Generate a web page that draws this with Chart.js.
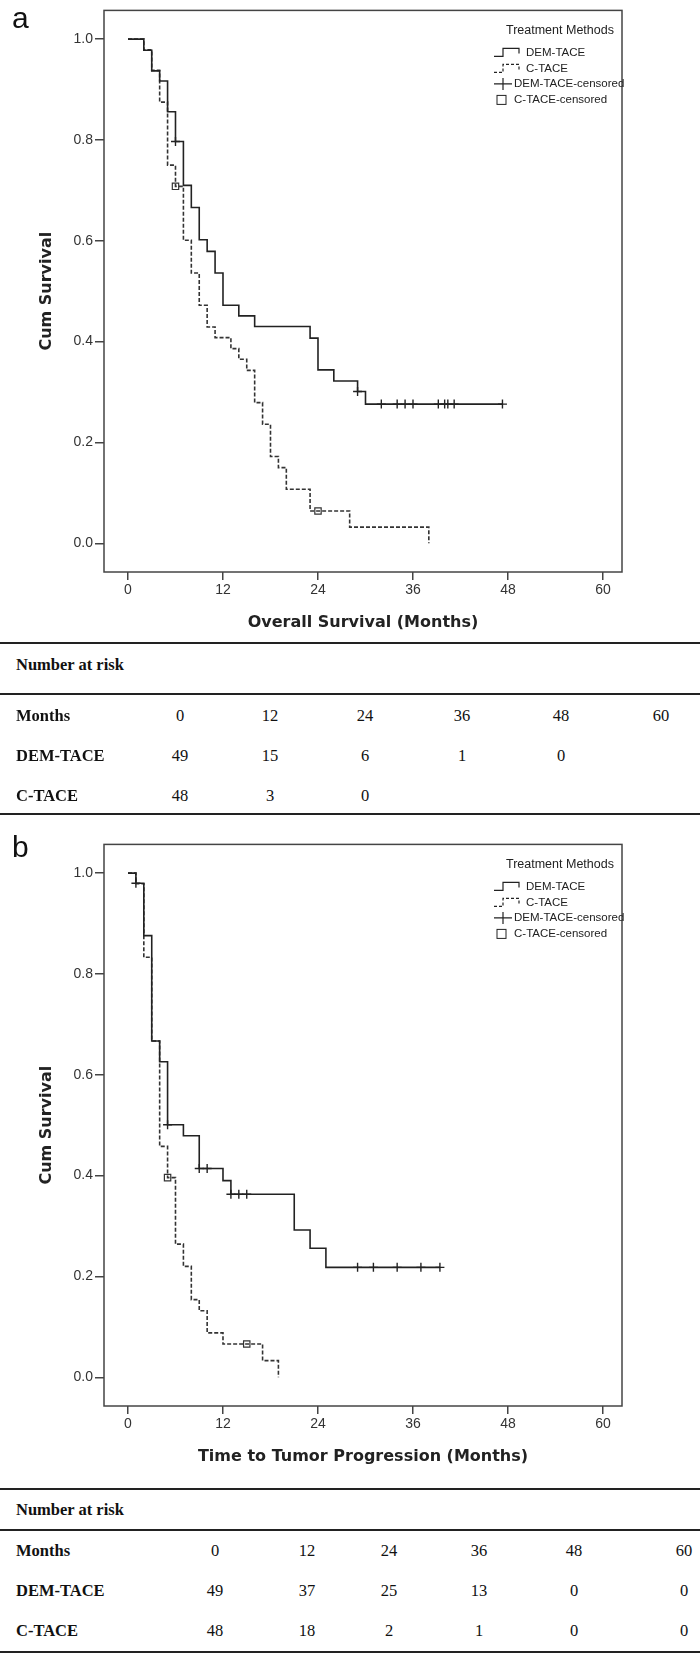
<!DOCTYPE html>
<html lang="en">
<head>
<meta charset="UTF-8">
<title>Kaplan-Meier curves: DEM-TACE vs C-TACE</title>
<script src="https://cdn.jsdelivr.net/npm/chart.js"></script>
<style>
  body { margin: 0; width: 700px; height: 1656px; position: relative; background: #fff; overflow: hidden; }
  canvas { position: absolute; left: 0; }
  #chartA { top: 0; }
  #chartB { top: 834px; }
  .panel { position: absolute; font-family: "Liberation Sans", Arial, sans-serif; font-size: 30px; line-height: 30px; color: #111; }
  .rule { position: absolute; left: 0; width: 700px; height: 2px; background: #222; }
  .cell { position: absolute; font-family: "Liberation Serif", "Times New Roman", serif; font-size: 16.5px; line-height: 20px; color: #111; transform: translate(-50%, -50%); white-space: nowrap; }
  .cell.lab { font-weight: bold; transform: translate(0, -50%); }
</style>
</head>
<body>
<canvas id="chartA" width="700" height="640"></canvas>
<canvas id="chartB" width="700" height="640"></canvas>
<div class="panel" style="left:12px;top:3px">a</div>
<div class="panel" style="left:12px;top:832px">b</div>
<script>
// axis ticks
const xTicks = [0, 12, 24, 36, 48, 60];
const yTicks = [0, 0.2, 0.4, 0.6, 0.8, 1.0];

// (a) overall survival
const osDemTime = [0, 2, 3, 4, 5, 6, 7, 8, 9, 10, 11, 12, 14, 16, 23, 24, 26, 29, 30, 47.3];
const osDemSurv = [1, 0.978, 0.937, 0.917, 0.856, 0.797, 0.710, 0.666, 0.602, 0.579, 0.536, 0.472, 0.451, 0.430, 0.407, 0.344, 0.322, 0.301, 0.276, 0.276];
const osDemCens = [6, 29, 32, 34, 35, 36, 39.2, 40, 40.4, 41.2, 47.3];
const osCtaTime = [0, 2, 3, 4, 5, 6, 7, 8, 9, 10, 11, 13, 14, 15, 16, 17, 18, 19, 20, 23, 28, 38];
const osCtaSurv = [1, 0.979, 0.938, 0.875, 0.750, 0.708, 0.601, 0.536, 0.472, 0.429, 0.408, 0.386, 0.365, 0.343, 0.279, 0.236, 0.172, 0.150, 0.107, 0.064, 0.032, 0];
const osCtaCens = [6, 24];

// (b) time to tumor progression
const ttpDemTime = [0, 1, 2, 3, 4, 5, 7, 9, 12, 13, 21, 23, 25, 39.4];
const ttpDemSurv = [1, 0.980, 0.876, 0.667, 0.626, 0.501, 0.479, 0.414, 0.390, 0.363, 0.292, 0.256, 0.218, 0.218];
const ttpDemCens = [1, 5, 9, 10, 13, 14, 15, 29, 31, 34, 37, 39.4];
const ttpCtaTime = [0, 1, 2, 3, 4, 5, 6, 7, 8, 9, 10, 12, 17, 19];
const ttpCtaSurv = [1, 0.979, 0.833, 0.667, 0.458, 0.396, 0.264, 0.220, 0.154, 0.132, 0.088, 0.066, 0.033, 0];
const ttpCtaCens = [5, 15];

// number at risk tables
const riskMonths = [0, 12, 24, 36, 48, 60];
const osRiskDem = [49, 15, 6, 1, 0, null];
const osRiskCta = [48, 3, 0, null, null, null];
const ttpRiskDem = [49, 37, 25, 13, 0, 0];
const ttpRiskCta = [48, 18, 2, 1, 0, 0];

const legendTitle = 'Treatment Methods';
const legendLabels = ['DEM-TACE', 'C-TACE', 'DEM-TACE-censored', 'C-TACE-censored'];

// survival level at time t (step function)
function kmAt(t, times, surv) {
  let s = surv[0];
  for (let i = 0; i < times.length; i++) if (times[i] <= t) s = surv[i];
  return s;
}
const pts = (times, surv) => times.map((t, i) => ({ x: t, y: surv[i] }));

const SANS = '"Liberation Sans", Arial, sans-serif';

const kmFrame = {
  id: 'kmFrame',
  afterDraw(chart) {
    const { ctx, chartArea: a } = chart;
    ctx.save();
    ctx.strokeStyle = '#444';
    ctx.lineWidth = 1.5;
    ctx.strokeRect(a.left, a.top, a.right - a.left, a.bottom - a.top);

    // legend in the top right corner
    const sx = a.right - 128;
    ctx.fillStyle = '#222';
    ctx.textBaseline = 'middle';
    ctx.font = '12.5px ' + SANS;
    ctx.fillText(legendTitle, a.right - 116, a.top + 20);
    ctx.font = '11.5px ' + SANS;
    const ys = [42, 58, 73.5, 89.5].map(d => a.top + d);

    ctx.strokeStyle = '#222';
    ctx.lineWidth = 1.2;
    [[], [3, 2]].forEach((dash, i) => {
      const y = ys[i];
      ctx.setLineDash(dash);
      ctx.beginPath();
      ctx.moveTo(sx, y + 4);
      ctx.lineTo(sx + 9, y + 4);
      ctx.lineTo(sx + 9, y - 4);
      ctx.lineTo(sx + 25, y - 4);
      ctx.lineTo(sx + 25, y + 1);
      ctx.stroke();
      ctx.setLineDash([]);
      ctx.fillText(legendLabels[i], a.right - 96, y);
    });
    ctx.beginPath();
    ctx.moveTo(sx, ys[2]); ctx.lineTo(sx + 18, ys[2]);
    ctx.moveTo(sx + 9, ys[2] - 6); ctx.lineTo(sx + 9, ys[2] + 6);
    ctx.stroke();
    ctx.fillText(legendLabels[2], a.right - 108, ys[2]);
    ctx.lineWidth = 1;
    ctx.strokeRect(sx + 3, ys[3] - 4.5, 9, 9);
    ctx.fillText(legendLabels[3], a.right - 108, ys[3]);
    ctx.restore();
  }
};

function kmChart(id, xTitle, dem, cta) {
  const datasets = [
    { data: pts(dem.time, dem.surv), showLine: true, stepped: 'before', borderColor: '#222', borderWidth: 1.6, pointRadius: 0 },
    { data: pts(cta.time, cta.surv), showLine: true, stepped: 'before', borderColor: '#333', borderWidth: 1.6, borderDash: [4, 2], pointRadius: 0 },
    { data: dem.cens.map(t => ({ x: t, y: kmAt(t, dem.time, dem.surv) })), showLine: false,
      pointStyle: 'cross', pointRadius: 4.5, borderColor: '#222', borderWidth: 1.4 },
    { data: cta.cens.map(t => ({ x: t, y: kmAt(t, cta.time, cta.surv) })), showLine: false,
      pointStyle: 'rect', pointRadius: 4.5, borderColor: '#333', backgroundColor: 'rgba(255,255,255,0)', borderWidth: 1.2 }
  ];
  new Chart(document.getElementById(id), {
    type: 'scatter',
    data: { datasets },
    plugins: [kmFrame],
    options: {
      responsive: false,
      animation: false,
      events: [],
      layout: { padding: { left: 0, top: 5, right: 78, bottom: 8 } },
      plugins: { legend: { display: false }, tooltip: { enabled: false } },
      scales: {
        x: {
          type: 'linear', min: -3.03, max: 62.4,
          afterFit(s) { s.height = 60; },
          afterBuildTicks(s) { s.ticks = xTicks.map(v => ({ value: v })); },
          grid: { drawOnChartArea: false, drawTicks: true, tickLength: 8, color: '#444', lineWidth: 1.5 },
          border: { display: false },
          ticks: { padding: 2, color: '#333', autoSkip: false, maxRotation: 0, font: { family: 'Liberation Sans', size: 14 } },
          title: { display: true, text: xTitle, color: '#222', padding: 0,
                   font: { family: 'DejaVu Sans', size: 16, weight: 'bold' } }
        },
        y: {
          min: -0.057, max: 1.057,
          afterFit(s) { s.width = 104; },
          afterBuildTicks(s) { s.ticks = yTicks.map(v => ({ value: v })); },
          grid: { drawOnChartArea: false, drawTicks: true, tickLength: 9, color: '#444', lineWidth: 1.5 },
          border: { display: false },
          ticks: { padding: 2, color: '#333', autoSkip: false, font: { family: 'Liberation Sans', size: 14 },
                   callback: v => v.toFixed(1) },
          title: { display: true, text: 'Cum Survival', color: '#222', padding: { top: 37, bottom: 0 },
                   font: { family: 'DejaVu Sans', size: 16, weight: 'bold' } }
        }
      }
    }
  });
}

kmChart('chartA', 'Overall Survival (Months)',
  { time: osDemTime, surv: osDemSurv, cens: osDemCens },
  { time: osCtaTime, surv: osCtaSurv, cens: osCtaCens });
kmChart('chartB', 'Time to Tumor Progression (Months)',
  { time: ttpDemTime, surv: ttpDemSurv, cens: ttpDemCens },
  { time: ttpCtaTime, surv: ttpCtaSurv, cens: ttpCtaCens });

function addCell(text, x, y, bold) {
  const d = document.createElement('div');
  d.className = bold ? 'cell lab' : 'cell';
  d.textContent = text;
  d.style.left = x + 'px';
  d.style.top = y + 'px';
  document.body.appendChild(d);
}

function riskTable(cfg) {
  cfg.lines.forEach(y => {
    const r = document.createElement('div');
    r.className = 'rule';
    r.style.top = (y - 1) + 'px';
    document.body.appendChild(r);
  });
  addCell('Number at risk', 16, cfg.headY, true);
  const rows = [['Months', riskMonths], ['DEM-TACE', cfg.dem], ['C-TACE', cfg.cta]];
  rows.forEach(([label, vals], i) => {
    addCell(label, 16, cfg.rowY[i], true);
    vals.forEach((v, j) => { if (v !== null) addCell(String(v), cfg.colX[j], cfg.rowY[i], false); });
  });
}

riskTable({ lines: [643, 694, 814], headY: 665, rowY: [716, 756, 796],
            colX: [180, 270, 365, 462, 561, 661], dem: osRiskDem, cta: osRiskCta });
riskTable({ lines: [1489, 1530, 1652], headY: 1510, rowY: [1551, 1591, 1631],
            colX: [215, 307, 389, 479, 574, 684], dem: ttpRiskDem, cta: ttpRiskCta });
</script>
</body>
</html>
